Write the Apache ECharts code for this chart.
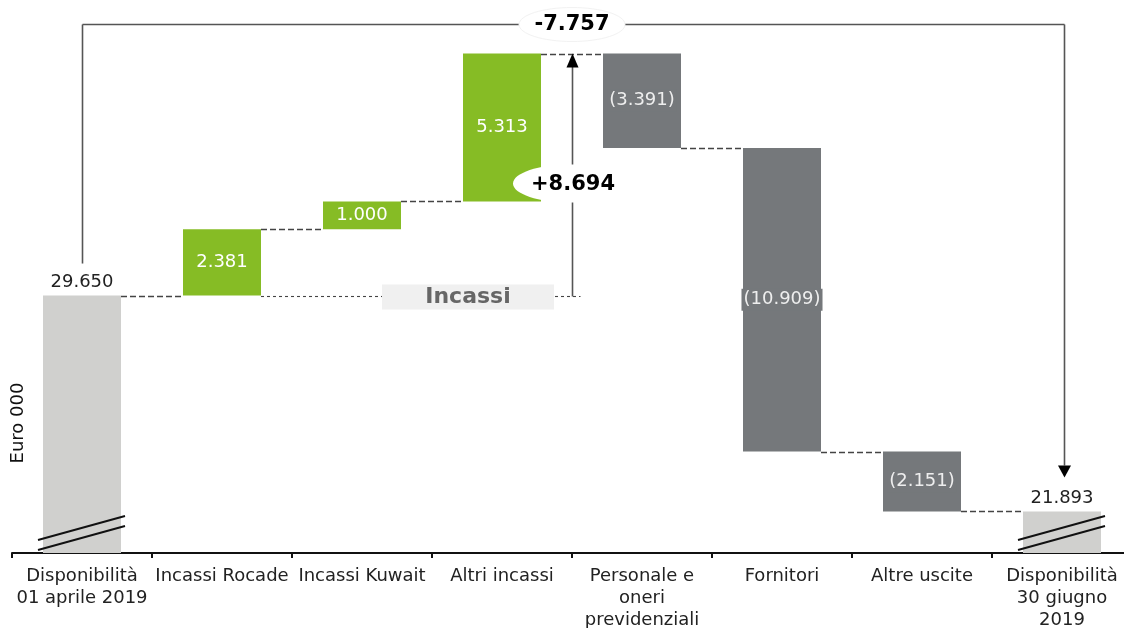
<!DOCTYPE html>
<html>
<head>
<meta charset="utf-8">
<script src="https://cdn.jsdelivr.net/npm/echarts@6/dist/echarts.min.js"></script>
<style>
  html, body { margin: 0; padding: 0; background: #ffffff; }
  #chart { width: 1124px; height: 628px; }
</style>
</head>
<body>
<div id="chart"></div>
<script>
// Cash flow bridge, April–June 2019 (Euro 000)
const categories = [
  'Disponibilità\n01 aprile 2019',
  'Incassi Rocade',
  'Incassi Kuwait',
  'Altri incassi',
  'Personale e\noneri\nprevidenziali',
  'Fornitori',
  'Altre uscite',
  'Disponibilità\n30 giugno\n2019'
];
const openingBalance = 29650;
const movements = [2381, 1000, 5313, -3391, -10909, -2151];
const closingBalance = 21893;
const receiptCount = 3; // the first three movements are receipts ("Incassi")

const FONT = 'DejaVu Sans';
const BAR_W = 78;
const colTotal = '#d0d0ce';
const colUp = '#86bc25';
const colDown = '#75787b';
const lineCol = '#555555';

function fmt(v) {
  return String(Math.abs(v)).replace(/\B(?=(\d{3})+(?!\d))/g, '.');
}

// running levels after each column
const levels = [openingBalance];
movements.forEach(m => levels.push(levels[levels.length - 1] + m));
const peak = Math.max(...levels);
const receiptsTotal = movements.slice(0, receiptCount).reduce((a, b) => a + b, 0);
const netChange = closingBalance - openingBalance;

// invisible base + visible part of each column
const baseData = [0];
const barData = [{
  value: openingBalance,
  itemStyle: { color: colTotal },
  label: { position: 'top', color: '#222', formatter: fmt(openingBalance) }
}];
movements.forEach((m, k) => {
  const prev = levels[k], next = levels[k + 1];
  baseData.push(Math.min(prev, next));
  barData.push({
    value: Math.abs(m),
    itemStyle: { color: m >= 0 ? colUp : colDown },
    label: m >= 0
      ? { position: 'inside', color: '#ffffff', formatter: fmt(m) }
      : { position: 'inside', color: '#eeeeee', formatter: '(' + fmt(m) + ')',
          backgroundColor: colDown, padding: [2, 2] }
  });
});
baseData.push(0);
barData.push({
  value: closingBalance,
  itemStyle: { color: colTotal },
  label: { position: 'top', color: '#222', formatter: fmt(closingBalance) }
});

// dashed connectors between consecutive columns
const connectorData = levels.map((v, i) => [i, v]);

const chart = echarts.init(document.getElementById('chart'));

chart.setOption({
  animation: false,
  backgroundColor: '#ffffff',
  grid: { left: 12, top: 13, width: 1120, height: 540, containLabel: false, outerBoundsMode: 'none' },
  xAxis: {
    type: 'category',
    data: categories,
    axisLine: { lineStyle: { color: '#111', width: 2 } },
    axisTick: { show: true, length: 5, lineStyle: { color: '#111', width: 2 } },
    axisLabel: {
      interval: 0, color: '#222', fontSize: 18, fontFamily: FONT,
      lineHeight: 22, margin: 12
    },
    splitLine: { show: false }
  },
  yAxis: { type: 'value', min: 20400, max: 39800, show: false },
  graphic: [{
    type: 'text',
    x: 18, y: 423,
    rotation: Math.PI / 2,
    style: {
      text: 'Euro 000', fill: '#111', fontSize: 18, fontFamily: FONT,
      align: 'center', verticalAlign: 'middle'
    }
  }],
  series: [
    {
      type: 'bar', stack: 'w', barWidth: BAR_W, silent: true,
      itemStyle: { color: 'rgba(0,0,0,0)' },
      data: baseData
    },
    {
      type: 'bar', stack: 'w', barWidth: BAR_W,
      label: { show: true, fontSize: 18, fontFamily: FONT, distance: 4 },
      data: barData
    },
    {
      type: 'custom', z: 3, silent: true,
      data: connectorData,
      renderItem(params, api) {
        const i = api.value(0), v = api.value(1);
        if (i >= categories.length - 1) return null;
        const a = api.coord([i, v]), b = api.coord([i + 1, v]);
        const y = Math.round(a[1]) + 0.5;
        return {
          type: 'line',
          shape: { x1: a[0] + BAR_W / 2, y1: y, x2: b[0] - BAR_W / 2, y2: y },
          style: { stroke: '#444', lineWidth: 1.3, lineDash: [6, 3] }
        };
      }
    },
    {
      // axis break marks on the two balance columns
      type: 'custom', z: 4, silent: true,
      data: [[0, 20400], [categories.length - 1, 20400]],
      renderItem(params, api) {
        const p = api.coord([api.value(0), api.value(1)]);
        const cx = p[0], by = p[1];
        const st = { stroke: '#111', lineWidth: 2 };
        return {
          type: 'group',
          children: [
            { type: 'line', shape: { x1: cx - 44, y1: by - 13, x2: cx + 43, y2: by - 37 }, style: st },
            { type: 'line', shape: { x1: cx - 44, y1: by - 3, x2: cx + 43, y2: by - 27 }, style: st }
          ]
        };
      }
    },
    {
      // receipts arrow, "Incassi" tag and overall change bracket
      type: 'custom', z: 10, silent: true,
      data: [[0, openingBalance]],
      renderItem(params, api) {
        const last = categories.length - 1;
        const pS = api.coord([0, openingBalance]);
        const pE = api.coord([last, closingBalance]);
        const pPk = api.coord([receiptCount, peak]);
        const pNx = api.coord([receiptCount + 1, peak]);
        const pR1 = api.coord([1, openingBalance]);
        const xMid = (pPk[0] + pNx[0]) / 2;
        const yS = Math.round(pS[1]) + 0.5;
        const yPk = pPk[1];
        const ax = Math.round(xMid) + 0.5;
        const yTop = Math.round(yPk - 30) + 0.5;
        const xL = Math.round(pS[0]) + 0.5;
        const xR = Math.round(pE[0]) + 2.5;
        const tipR = pE[1] - 34;
        const yLbl = (pS[1] + yPk) / 2 + 9;
        const solid = { stroke: lineCol, lineWidth: 1.6 };
        const bold = { fontSize: 21, fontWeight: 'bold', fontFamily: FONT, fill: '#000',
                       align: 'center', verticalAlign: 'middle' };
        return {
          type: 'group',
          children: [
            // receipts baseline
            { type: 'line', shape: { x1: pR1[0] + BAR_W / 2, y1: yS, x2: ax + 8, y2: yS },
              style: { stroke: '#444', lineWidth: 1.1, lineDash: [3, 3] } },
            { type: 'rect', shape: { x: xMid - 190, y: pS[1] - 11, width: 172, height: 25 },
              style: { fill: '#f0f0f0' } },
            { type: 'text', style: { text: 'Incassi', x: xMid - 104, y: pS[1] + 1.5,
              fontSize: 22, fontWeight: 'bold', fontFamily: FONT, fill: '#666666',
              align: 'center', verticalAlign: 'middle' } },
            // receipts arrow
            { type: 'line', shape: { x1: ax, y1: yS, x2: ax, y2: yPk + 12 }, style: solid },
            { type: 'polygon', shape: { points: [[ax, yPk], [ax - 6, yPk + 14], [ax + 6, yPk + 14]] },
              style: { fill: '#000' } },
            { type: 'ellipse', shape: { cx: xMid - 2, cy: yLbl, rx: 57, ry: 19 },
              style: { fill: '#ffffff' } },
            { type: 'text', style: Object.assign({ text: '+' + fmt(receiptsTotal), x: xMid + 1, y: yLbl + 1 }, bold) },
            // overall change bracket
            { type: 'line', shape: { x1: xL, y1: pS[1] - 32, x2: xL, y2: yTop }, style: solid },
            { type: 'line', shape: { x1: xL, y1: yTop, x2: xR, y2: yTop }, style: solid },
            { type: 'line', shape: { x1: xR, y1: yTop, x2: xR, y2: tipR - 12 }, style: solid },
            { type: 'polygon', shape: { points: [[xR, tipR], [xR - 6.5, tipR - 12], [xR + 6.5, tipR - 12]] },
              style: { fill: '#000' } },
            { type: 'ellipse', shape: { cx: xMid, cy: yTop, rx: 53, ry: 17 },
              style: { fill: '#ffffff', stroke: '#f2f2f2', lineWidth: 1 } },
            { type: 'text', style: Object.assign({ text: (netChange < 0 ? '-' : '+') + fmt(netChange), x: xMid, y: yTop }, bold) }
          ]
        };
      }
    }
  ]
});
</script>
</body>
</html>
